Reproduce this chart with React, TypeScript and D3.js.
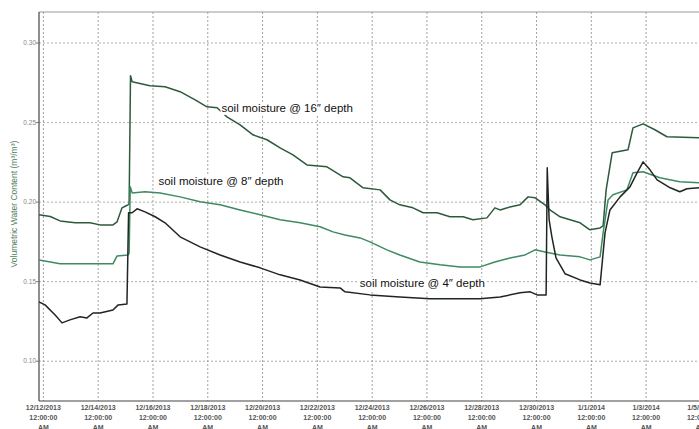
import * as d3 from "d3";

// day offsets from 12/12/2013 12:00 AM, volumetric water content
const depth16Days = [-0.16, 0.25, 0.61, 1.16, 1.7, 2.07, 2.54, 2.69, 2.87, 3.02, 3.09, 3.13, 3.18, 3.24, 3.89, 4.44, 4.99, 5.54, 5.97, 6.34, 6.7, 7.18, 7.65, 8.16, 8.64, 9.11, 9.62, 10.35, 10.94, 11.19, 11.67, 12.29, 12.65, 13.01, 13.49, 13.86, 14.37, 14.84, 15.32, 15.68, 16.19, 16.48, 16.67, 17.03, 17.4, 17.69, 17.95, 18.31, 18.49, 18.86, 19.59, 19.95, 20.32, 20.43, 20.54, 20.76, 21.34, 21.52, 21.89, 22.32, 22.76, 23.93];
const depth16Vals = [0.192, 0.191, 0.1882, 0.187, 0.187, 0.1857, 0.1857, 0.1876, 0.1964, 0.1977, 0.1983, 0.199, 0.2794, 0.2757, 0.2731, 0.2725, 0.2694, 0.2643, 0.2599, 0.2593, 0.2536, 0.2486, 0.2423, 0.2392, 0.2341, 0.2297, 0.2234, 0.2222, 0.2159, 0.2153, 0.209, 0.2077, 0.2014, 0.1983, 0.1964, 0.1933, 0.1933, 0.1908, 0.1908, 0.1889, 0.1901, 0.1964, 0.1951, 0.197, 0.1983, 0.2033, 0.2027, 0.1983, 0.1951, 0.1908, 0.187, 0.1826, 0.1838, 0.1851, 0.2077, 0.231, 0.2329, 0.2467, 0.2492, 0.2455, 0.2411, 0.2404];

const depth8Days = [-0.16, 0.61, 2.07, 2.54, 2.69, 3.09, 3.13, 3.17, 3.24, 3.71, 4.26, 4.99, 5.72, 6.45, 7.18, 7.91, 8.64, 9.37, 10.1, 10.57, 11.01, 11.56, 11.92, 12.54, 13.01, 13.74, 14.48, 15.21, 15.94, 16.48, 17.03, 17.58, 17.95, 18.31, 18.86, 19.59, 19.95, 20.32, 20.43, 20.61, 20.79, 21.3, 21.52, 21.89, 22.5, 23.23, 23.93];
const depth8Vals = [0.1637, 0.1612, 0.1612, 0.1612, 0.1662, 0.1668, 0.168, 0.2096, 0.2058, 0.2065, 0.2058, 0.2033, 0.2002, 0.1983, 0.1951, 0.192, 0.1889, 0.187, 0.1845, 0.1813, 0.1794, 0.1775, 0.175, 0.17, 0.1668, 0.1624, 0.1606, 0.1593, 0.1593, 0.1624, 0.1649, 0.1668, 0.17, 0.1687, 0.1668, 0.1656, 0.1637, 0.1656, 0.1807, 0.2014, 0.2046, 0.2077, 0.2184, 0.2191, 0.2153, 0.2128, 0.2121];

const depth4Days = [-0.16, 0.06, 0.43, 0.68, 0.97, 1.34, 1.59, 1.81, 2.07, 2.54, 2.73, 3.05, 3.11, 3.24, 3.42, 3.71, 4.08, 4.44, 4.99, 5.72, 6.45, 7.18, 7.91, 8.64, 9.37, 10.1, 10.83, 11.01, 11.92, 13.01, 14.11, 15.21, 15.94, 16.67, 17.4, 17.77, 18.02, 18.35, 18.39, 18.46, 18.56, 18.71, 19.04, 19.59, 19.95, 20.32, 20.5, 20.68, 21.05, 21.41, 21.67, 21.89, 22.14, 22.4, 22.88, 23.23, 23.49, 23.93];
const depth4Vals = [0.1373, 0.1354, 0.1291, 0.1241, 0.126, 0.1279, 0.1272, 0.1303, 0.1303, 0.1322, 0.1354, 0.136, 0.1933, 0.1933, 0.1958, 0.1939, 0.1908, 0.187, 0.1782, 0.1719, 0.1668, 0.1624, 0.1587, 0.1543, 0.1511, 0.1467, 0.1461, 0.1436, 0.1417, 0.1404, 0.1392, 0.1392, 0.1392, 0.1404, 0.143, 0.1436, 0.1417, 0.1417, 0.2216, 0.1889, 0.1782, 0.165, 0.155, 0.1511, 0.1492, 0.148, 0.1807, 0.1951, 0.2033, 0.2096, 0.2184, 0.2253, 0.2203, 0.214, 0.209, 0.2065, 0.2084, 0.209];

const tickDates = ["12/12/2013", "12/14/2013", "12/16/2013", "12/18/2013", "12/20/2013", "12/22/2013", "12/24/2013", "12/26/2013", "12/28/2013", "12/30/2013", "1/1/2014", "1/3/2014", "1/5/2014"];
const yTicks = [0.1, 0.15, 0.2, 0.25, 0.3];

const seriesNames = ["soil moisture @ 16″ depth", "soil moisture @ 8″ depth", "soil moisture @ 4″ depth"];
const seriesColors = ["#2d5a3d", "#3f8a62", "#1f2622"];
// label anchor (day, value) for each series
const labelDays = [6.5, 4.2, 11.55];
const labelVals = [0.2567, 0.2105, 0.1467];

const W = 699;
const H = 429;
const left = 39;
const top = 12;
const bottom = 401;

const base = new Date(2013, 11, 12);
const dayToDate = (d: number) => new Date(base.getTime() + d * 86400000);

export default function App() {
  const x = d3
    .scaleTime()
    .domain([dayToDate(-0.16), dayToDate(23.93)])
    .range([left, W]);
  const y = d3.scaleLinear().domain([0.075, 0.3195]).range([bottom, top]);

  const series = [
    d3.zip(depth16Days, depth16Vals),
    d3.zip(depth8Days, depth8Vals),
    d3.zip(depth4Days, depth4Vals),
  ];
  const line = d3
    .line<number[]>()
    .x((d) => x(dayToDate(d[0])))
    .y((d) => y(d[1]));

  const parse = d3.timeParse("%m/%d/%Y");

  return (
    <svg
      width={W}
      height={H}
      style={{ position: "absolute", left: 0, top: 0, background: "#fff" }}
      fontFamily="Arial, 'Liberation Sans', sans-serif"
    >
      <defs>
        <clipPath id="plot">
          <rect x={left} y={top} width={W - left} height={bottom - top} />
        </clipPath>
      </defs>
      {/* grid */}
      {yTicks.map((t) => (
        <line key={t} x1={left} x2={W} y1={y(t)} y2={y(t)} stroke="#9a9a9a" strokeDasharray="2,2" strokeWidth={0.8} />
      ))}
      {tickDates.map((s) => {
        const px = x(parse(s)!);
        return <line key={s} x1={px} x2={px} y1={top} y2={bottom} stroke="#8a8a8a" strokeDasharray="2,2" strokeWidth={0.8} />;
      })}
      {/* frame */}
      <line x1={left} x2={W} y1={top} y2={top} stroke="#999" strokeWidth={1} />
      <line x1={left} x2={left} y1={top} y2={bottom} stroke="#444" strokeWidth={1.2} />
      <line x1={left} x2={W} y1={bottom} y2={bottom} stroke="#444" strokeWidth={1.2} />

      {/* y ticks */}
      {yTicks.map((t) => (
        <g key={t}>
          <line x1={left - 3} x2={left} y1={y(t)} y2={y(t)} stroke="#777" />
          <text x={left - 3} y={y(t)} dy="0.35em" textAnchor="end" fontSize={6.5} fill="#888">
            {t.toFixed(2)}
          </text>
        </g>
      ))}
      <text
        transform={`translate(17, 204) rotate(-90)`}
        textAnchor="middle"
        fontSize={8.5}
        fill="#4f8060"
      >
        Volumetric Water Content (m³/m³)
      </text>

      {/* x ticks */}
      {tickDates.map((s) => {
        const px = x(parse(s)!);
        return (
          <text key={s} x={px} textAnchor="middle" fontSize={7} fill="#555" fontWeight="bold">
            <tspan x={px} y={409.5}>{s}</tspan>
            <tspan x={px} y={419.5}>12:00:00</tspan>
            <tspan x={px} y={429.5}>AM</tspan>
          </text>
        );
      })}

      {/* series */}
      <g clipPath="url(#plot)">
        {series.map((d, i) => (
          <path key={i} d={line(d as number[][]) || ""} fill="none" stroke={seriesColors[i]} strokeWidth={1.5} strokeLinejoin="round" />
        ))}
      </g>

      {/* labels */}
      {seriesNames.map((n, i) => {
        const lx = x(dayToDate(labelDays[i]));
        const ly = y(labelVals[i]);
        return (
          <g key={n}>
            <rect x={lx - 1} y={ly - 10} width={128} height={13} fill="#fff" />
            <text x={lx} y={ly} fontSize={11.5} fill="#111">
              {n}
            </text>
          </g>
        );
      })}
    </svg>
  );
}
